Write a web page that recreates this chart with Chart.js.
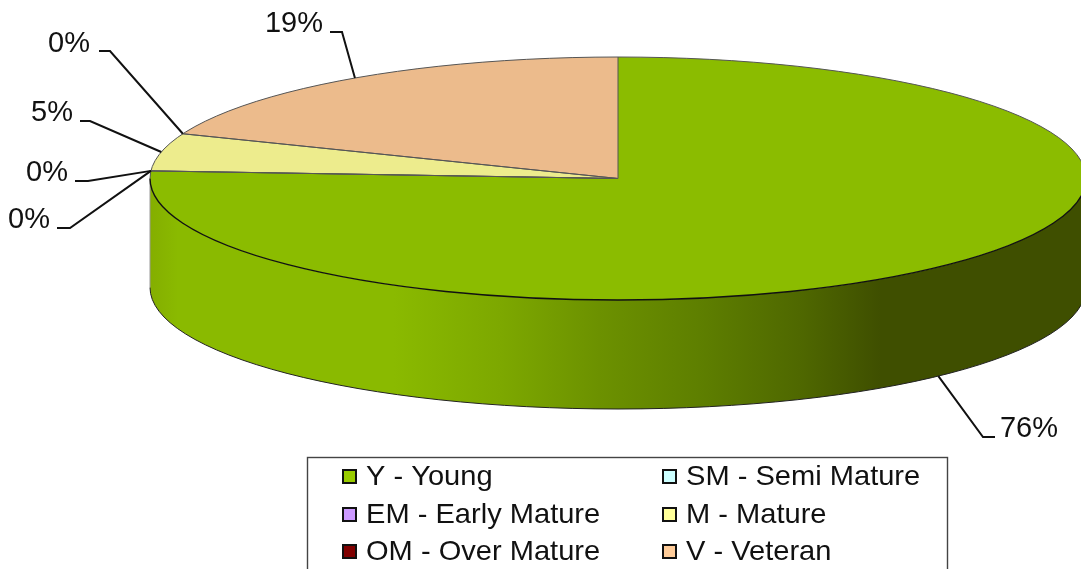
<!DOCTYPE html>
<html><head><meta charset="utf-8">
<style>html,body{margin:0;padding:0;background:#fff;overflow:hidden}canvas{display:block}</style>
<script src="https://cdn.jsdelivr.net/npm/chart.js@4"></script>
</head><body>
<canvas id="c" width="1081" height="569"></canvas>
<script>
const categories = ['Y - Young','SM - Semi Mature','EM - Early Mature','M - Mature','OM - Over Mature','V - Veteran'];
const percentValues = [76,0,0,5,0,19];
const sliceColors = ['#8BBC00','#BDEDED','#BD8EED','#EDEC8D','#760000','#ECBB8C'];
const legendColors = ['#99CC00','#CCFFFF','#CC99FF','#FFFF99','#800000','#FFCC99'];

// Layout of the squashed pie
const PIE = {cx:618, top:57, bottom:300, rx:468, depth:109};
const FONT = 'Liberation Sans, Arial, sans-serif';
// label layout: text centre, elbow, in the order of categories
const labelPlacement = [
  {tx:1029,ty:428,ex:983,ey:437,hx:995,front:true},
  {tx:29,ty:219,ex:70,ey:228,hx:57},
  {tx:47,ty:172,ex:88,ey:181,hx:75},
  {tx:52,ty:112,ex:90,ey:121,hx:80},
  {tx:69,ty:43,ex:110,ey:51,hx:99},
  {tx:294,ty:23,ex:342,ey:32,hx:330}
];
// legend order is by column pairs
const legendBox = {x:307.5,y:457.5,w:640,h:140};
const legendCols = [343,663];
const legendRows = [476,514,551];

function geom(chart){
  const el = chart.getDatasetMeta(0).data[0];
  const r = el.outerRadius;
  return {x:el.x,y:el.y,r,k:PIE.rx/r,ry:r};
}

const pie3d = {
  id:'pie3d',
  beforeDatasetsDraw(chart){
    const ctx = chart.ctx, g = geom(chart), meta = chart.getDatasetMeta(0);
    const rx = g.r*g.k;
    const grad = ctx.createLinearGradient(g.x-rx,0,g.x+rx,0);
    grad.addColorStop(0,'#84AE00');
    grad.addColorStop(0.03,'#8ABA00');
    grad.addColorStop(0.26,'#8ABA00');
    grad.addColorStop(0.374,'#7DA800');
    grad.addColorStop(0.48,'#6C9100');
    grad.addColorStop(0.587,'#5E7F00');
    grad.addColorStop(0.694,'#4F6800');
    grad.addColorStop(0.78,'#3F4F00');
    grad.addColorStop(1,'#3F4F00');
    ctx.save();
    meta.data.forEach(el=>{
      const a0 = Math.max(el.startAngle,0), a1 = Math.min(el.endAngle,Math.PI);
      if(a1<=a0) return;
      ctx.beginPath();
      ctx.ellipse(g.x,g.y+PIE.depth,rx,g.ry,0,a0,a1,false);
      ctx.ellipse(g.x,g.y,rx,g.ry,0,a1,a0,true);
      ctx.closePath();
      ctx.fillStyle = grad;
      ctx.fill();
      ctx.beginPath();
      ctx.ellipse(g.x,g.y+PIE.depth,rx,g.ry,0,a0,a1,false);
      ctx.strokeStyle='#222';ctx.lineWidth=1;ctx.stroke();
    });
    ctx.beginPath();
    ctx.moveTo(g.x-rx,g.y);ctx.lineTo(g.x-rx,g.y+PIE.depth);
    ctx.strokeStyle='#999';ctx.stroke();
    ctx.restore();
    // stretch the library-drawn circle horizontally into an ellipse
    ctx.save();
    ctx.translate(g.x,0);ctx.scale(g.k,1);ctx.translate(-g.x,0);
  },
  afterDatasetsDraw(chart){
    const ctx = chart.ctx; ctx.restore();
    const g = geom(chart), meta = chart.getDatasetMeta(0), rx = g.r*g.k;
    ctx.save();
    ctx.beginPath();ctx.ellipse(g.x,g.y,rx,g.ry,0,0,Math.PI,false);
    ctx.strokeStyle='#111';ctx.lineWidth=1.4;ctx.stroke();
    ctx.beginPath();ctx.ellipse(g.x,g.y,rx,g.ry,0,Math.PI,2*Math.PI,false);
    ctx.strokeStyle='#555';ctx.lineWidth=1;ctx.stroke();
    ctx.strokeStyle='#555';ctx.lineWidth=1;
    meta.data.forEach(el=>{
      ctx.beginPath();ctx.moveTo(g.x,g.y);
      ctx.lineTo(g.x+rx*Math.cos(el.startAngle),g.y+g.ry*Math.sin(el.startAngle));
      ctx.stroke();
    });
    ctx.restore();
    drawLabels(chart,g,meta,rx);
    drawLegend(ctx);
  }
};

function stretchedText(ctx,text,x,y,sx){
  ctx.save();ctx.translate(x,y);ctx.scale(sx,1);ctx.fillText(text,0,0);ctx.restore();
}

function drawLabels(chart,g,meta,rx){
  const ctx = chart.ctx;
  ctx.save();
  meta.data.forEach((el,i)=>{
    const p = labelPlacement[i];
    const mid = (el.startAngle+el.endAngle)/2;
    const ax = g.x+rx*Math.cos(mid);
    const ay = g.y+g.ry*Math.sin(mid)+(p.front?PIE.depth:0);
    ctx.beginPath();ctx.moveTo(ax,ay);ctx.lineTo(p.ex,p.ey);ctx.lineTo(p.hx,p.ey);
    ctx.strokeStyle='#111';ctx.lineWidth=2;ctx.stroke();
    ctx.fillStyle='#111';ctx.font='29px '+FONT;ctx.textAlign='center';ctx.textBaseline='middle';
    stretchedText(ctx,percentValues[i]+'%',p.tx,p.ty+1,1);
  });
  ctx.restore();
}

function drawLegend(ctx){
  ctx.save();
  ctx.fillStyle='#fff';
  ctx.fillRect(legendBox.x,legendBox.y,legendBox.w,legendBox.h);
  ctx.strokeStyle='#444';ctx.lineWidth=1.4;
  ctx.strokeRect(legendBox.x,legendBox.y,legendBox.w,legendBox.h);
  categories.forEach((name,i)=>{
    const x = legendCols[i%2], y = legendRows[Math.floor(i/2)];
    ctx.fillStyle=legendColors[i];
    ctx.fillRect(x,y-6,13,13);
    ctx.strokeStyle='#111';ctx.lineWidth=2;ctx.strokeRect(x,y-6,13,13);
    ctx.fillStyle='#111';ctx.font='28.5px '+FONT;ctx.textAlign='left';ctx.textBaseline='middle';
    stretchedText(ctx,name,x+23,y+1,1.02);
  });
  ctx.restore();
}

new Chart(document.getElementById('c'),{
  type:'pie',
  data:{labels:categories,datasets:[{data:percentValues,backgroundColor:sliceColors,borderWidth:0,clip:false}]},
  options:{
    responsive:false,animation:false,
    layout:{padding:{top:PIE.top,bottom:569-PIE.bottom,left:PIE.cx-122,right:1081-PIE.cx-122}},
    plugins:{legend:{display:false},tooltip:{enabled:false}}
  },
  plugins:[pie3d]
});
</script>
</body></html>
